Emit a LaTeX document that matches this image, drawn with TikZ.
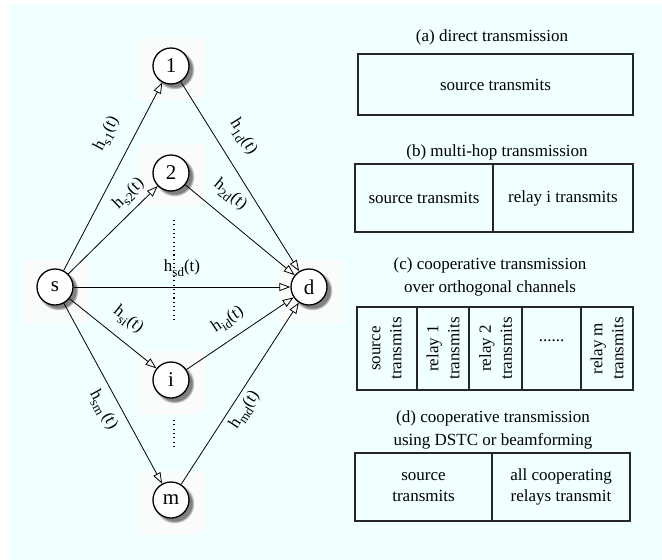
\documentclass[tikz,border=0pt]{standalone}
\usepackage{fontspec}
\setmainfont{Liberation Serif}
\usetikzlibrary{arrows.meta,shadows}
\definecolor{bgcyan}{RGB}{240,255,255}
\definecolor{tilewhite}{RGB}{250,252,252}
\newcommand{\hlab}[1]{h\raisebox{-4.5pt}{\fontsize{13}{13}\selectfont #1}(t)}
\begin{document}
\begin{tikzpicture}[x=1pt,y=-1pt,
  relay/.style={circle, draw=black, line width=1.3pt, fill=white, minimum size=36pt, inner sep=0pt,
    font=\fontsize{21}{21}\selectfont,
    circular drop shadow={shadow xshift=3pt, shadow yshift=-3pt, shadow scale=1.12}},
  tile/.style={fill=tilewhite, draw=none, minimum width=65pt, minimum height=63pt, inner sep=0pt},
  edge/.style={-{Triangle[open,length=11pt,width=8pt]}, line width=0.8pt},
  elab/.style={font=\fontsize{17}{17}\selectfont, inner sep=0pt},
  dotline/.style={line width=1.1pt, dash pattern=on 1.1pt off 3.2pt},
  cell/.style={draw=black!85, line width=1.1pt, inner sep=0pt, align=center,
    font=\fontsize{17}{21}\selectfont},
  title/.style={align=center, inner sep=0pt, font=\fontsize{17}{23}\selectfont}]
\useasboundingbox (0,0) rectangle (662,560);
\fill[bgcyan] (10,5) rectangle (662,560);
% tiles behind the relays
\node[tile] (ts) at (55,291) {};
\node[tile] (t1) at (171,68) {};
\node[tile] (t2) at (171,175) {};
\node[tile] (td) at (309,291) {};
\node[tile] (ti) at (171,382) {};
\node[tile] (tm) at (171,502) {};
% dotted lines
\coordinate (da) at (174,220);
\coordinate (db) at (174,323);
\coordinate (dc) at (174,420);
\coordinate (dd) at (174,448);
\draw[dotline] (da) -- (db);
\draw[dotline] (dc) -- (dd);
% nodes
\node[relay] (s) at (55,287) {s};
\node[relay] (n1) at (171,66) {1};
\node[relay] (n2) at (171,173) {2};
\node[relay] (d) at (309,287) {d};
\node[relay] (ni) at (171,380) {i};
\node[relay] (nm) at (171,500) {m};
% edges
\draw[edge] (s) -- (n1);
\draw[edge] (s) -- (n2);
\draw[edge] (s) -- (d);
\draw[edge] (s) -- (ni);
\draw[edge] (s) -- (nm);
\draw[edge] (n1) -- (d);
\draw[edge] (n2) -- (d);
\draw[edge] (ni) -- (d);
\draw[edge] (nm) -- (d);
% edge labels
\node[elab, rotate=62.3] (ls1) at (107,134) {\hlab{s1}};
\node[elab, rotate=-58] (l1d) at (243,137) {\hlab{1d}};
\node[elab, rotate=44.5] (ls2) at (129,194) {\hlab{s2}};
\node[elab, rotate=-39.6] (l2d) at (230,195) {\hlab{2d}};
\node[elab] (lsd) at (182,268) {\hlab{sd}};
\node[elab, rotate=-38.7] (lsi) at (128,320) {\hlab{si}};
\node[elab, rotate=34] (lid) at (228,320) {\hlab{id}};
\node[elab, rotate=-61.4] (lsm) at (103,410) {\hlab{sm\,}};
\node[elab, rotate=57.1] (lmd) at (245,410) {\hlab{md}};
% (a)
\node[title] (ta) at (492,37) {(a) direct transmission};
\node[cell, minimum width=275pt, minimum height=61pt] (ca) at (495.5,84.5) {source transmits};
% (b)
\node[title] (tb) at (497,152) {(b) multi-hop transmission};
\node[cell, minimum width=138pt, minimum height=68pt] (cb1) at (424,198) {source transmits};
\node[cell, minimum width=140pt, minimum height=68pt] (cb2) at (563,198) {relay i transmits};
% (c)
\node[title] (tc) at (490,276.5) {(c) cooperative transmission\\over orthogonal channels};
\node[cell, rotate=90, minimum width=83pt, minimum height=60pt] (cc1) at (387,348.5) {source\\transmits};
\node[cell, rotate=90, minimum width=83pt, minimum height=52pt] (cc2) at (443,348.5) {relay 1\\transmits};
\node[cell, rotate=90, minimum width=83pt, minimum height=53pt] (cc3) at (495.5,348.5) {relay 2\\transmits};
\node[cell, minimum width=59pt, minimum height=83pt] (cc4) at (551.5,348.5) {};
\node[inner sep=0pt, font=\fontsize{17}{17}\selectfont] (ccdots) at (551.5,341) {......};
\node[cell, rotate=90, minimum width=83pt, minimum height=52pt] (cc5) at (607,348.5) {relay m\\transmits};
% (d)
\node[title] (td2) at (493,430) {(d) cooperative transmission\\using DSTC or beamforming};
\node[cell, minimum width=137pt, minimum height=68pt] (cd1) at (423.5,487) {source\\transmits};
\node[cell, minimum width=138pt, minimum height=68pt] (cd2) at (561,487) {all cooperating\\relays transmit};
\end{tikzpicture}
\end{document}
